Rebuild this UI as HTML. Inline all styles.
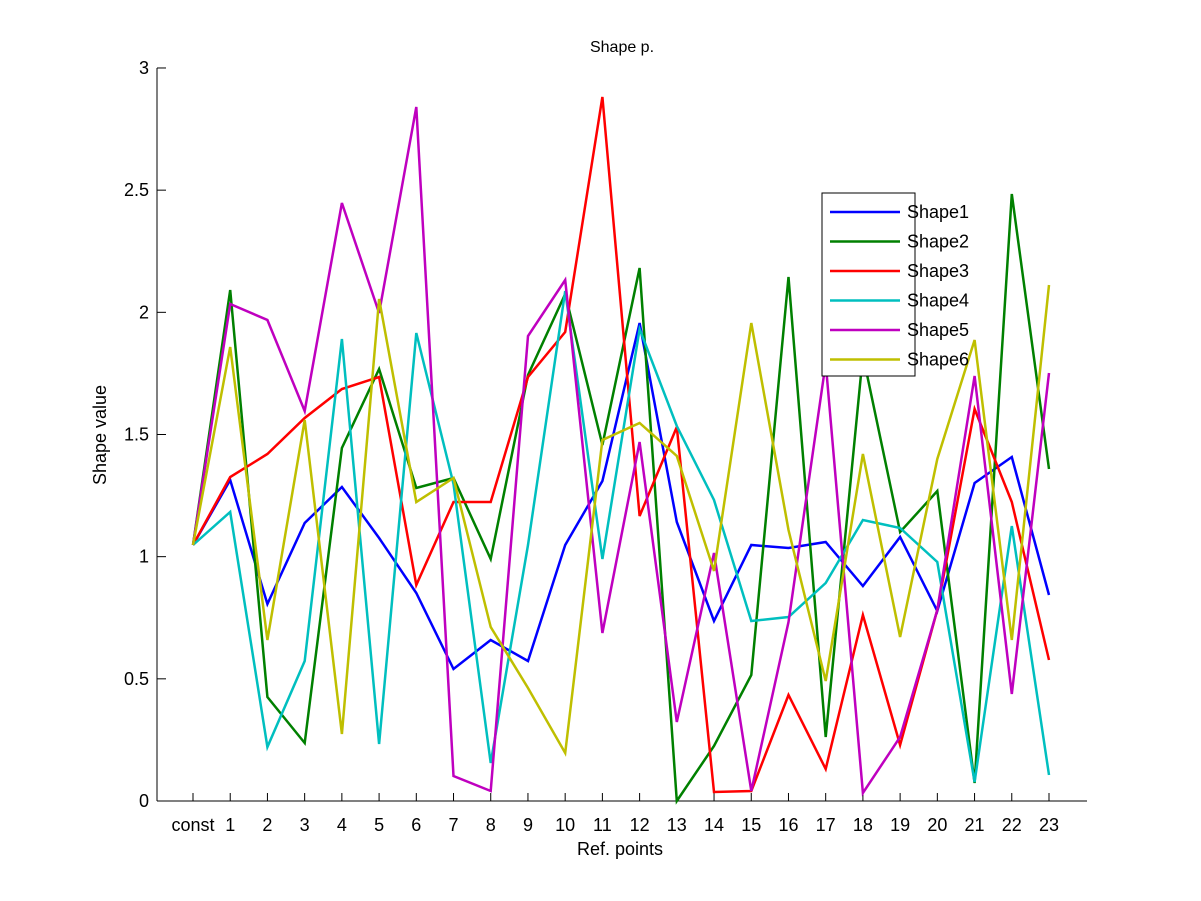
<!DOCTYPE html><html><head><style>body{margin:0;background:#fff}svg{display:block}text{font-family:"Liberation Sans",sans-serif;fill:#000}</style></head><body>
<svg width="1201" height="901" xmlns="http://www.w3.org/2000/svg">
<rect width="1201" height="901" fill="#fff"/>
<line x1="157" y1="68" x2="157" y2="801" stroke="#000"/>
<line x1="157" y1="801" x2="1087" y2="801" stroke="#000"/>
<g id="ticks" stroke="#000" stroke-width="1"></g>
<g id="lines" fill="none" stroke-width="2.5" stroke-linejoin="miter"></g>
<text x="622" y="52" font-size="16" text-anchor="middle">Shape p.</text>
<text x="620" y="855" font-size="18" text-anchor="middle">Ref. points</text>
<text transform="translate(106,435) rotate(-90)" font-size="18" text-anchor="middle">Shape value</text>
<g id="labels" font-size="18"></g>
<rect x="822" y="193" width="93" height="183" fill="#fff" stroke="#000"/>
<g id="legend" font-size="18"></g>
</svg>
<script>
var ns="http://www.w3.org/2000/svg";
function el(t,a,p,txt){var e=document.createElementNS(ns,t);for(var k in a)e.setAttribute(k,a[k]);if(txt!=null)e.textContent=txt;document.getElementById(p).appendChild(e);}
var X=function(i){return 193+i*37.217;};
for(var i=0;i<24;i++){var x=X(i);el('line',{x1:x,y1:801,x2:x,y2:793},'ticks');el('text',{x:x,y:831,'text-anchor':'middle'},'labels',i==0?'const':i);}
for(var j=0;j<=6;j++){var y=801-j*122.17;el('line',{x1:157,y1:y,x2:166,y2:y},'ticks');el('text',{x:149,y:y+6,'text-anchor':'end'},'labels',(j/2).toString());}
var D=[
['#0000ff','Shape1',[545,480,604,523,487,538,593,669,640,661,545,481,323,522,621,545,548,542,586,537,611,483,457,595]],
['#008000','Shape2',[545,290,697,743,448,369,488,478,559,375,294,445,268,801,746,675,277,737,355,532,491,783,194,469]],
['#ff0000','Shape3',[545,477,454,418,389,377,585,502,502,377,332,97,516,427,792,791,695,769,615,745,610,409,502,660]],
['#00bfbf','Shape4',[545,512,747,661,339,744,333,484,763,545,291,559,329,426,500,621,617,583,520,528,562,782,526,775]],
['#bf00bf','Shape5',[545,304,320,411,203,313,107,776,791,336,280,633,442,722,553,791,622,363,793,737,610,376,694,373]],
['#bfbf00','Shape6',[545,347,640,420,734,299,502,478,627,688,753,440,423,456,571,323,530,681,454,637,459,340,640,285]]];
D.forEach(function(s,k){var p=s[2].map(function(y,i){return X(i).toFixed(1)+','+y;}).join(' ');el('polyline',{points:p,stroke:s[0]},'lines');
var ly=212+k*29.5;el('line',{x1:830,y1:ly,x2:900,y2:ly,stroke:s[0],'stroke-width':2.5},'legend');el('text',{x:907,y:ly+6},'legend',s[1]);});
</script>
</body></html>
